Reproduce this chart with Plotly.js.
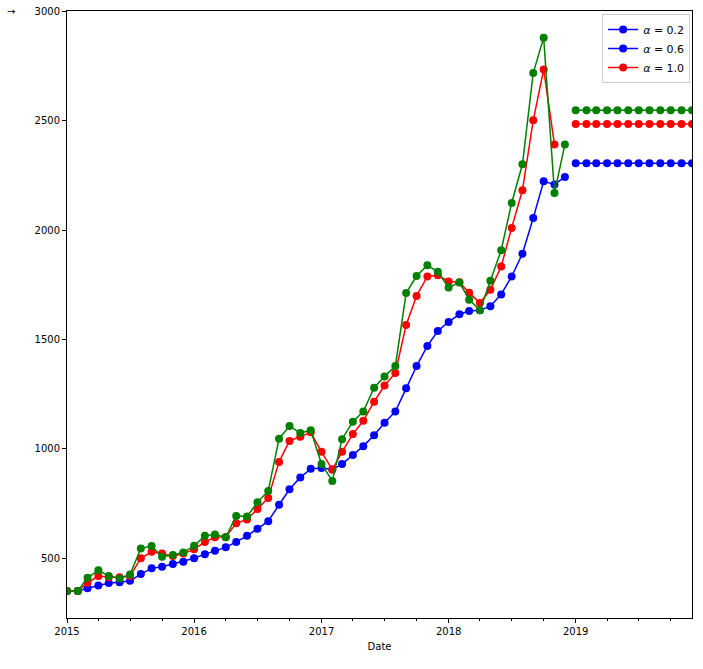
<!DOCTYPE html>
<html>
<head>
<meta charset="utf-8">
<script src="https://cdn.plot.ly/plotly-3.0.1.min.js"></script>
<style>
  html, body { margin: 0; padding: 0; background: #ffffff; }
  #chart { width: 703px; height: 669px; }
</style>
</head>
<body>
<div id="chart"></div>
<script>
// Monthly dates: fitted period 2015-01 .. 2018-12, forecast 2019-01 .. 2019-12
const fitDates = [];
for (let y = 2015; y <= 2018; y++) {
  for (let m = 1; m <= 12; m++) fitDates.push(y + '-' + String(m).padStart(2, '0') + '-01');
}
const fcDates = [];
for (let m = 1; m <= 12; m++) fcDates.push('2019-' + String(m).padStart(2, '0') + '-01');

// Fitted values
const fitA02 = [349, 349, 362, 375, 386, 390, 396, 427, 453, 460, 473, 483,
                499, 518, 533, 549, 574, 602, 634, 669, 744, 815, 869, 908,
                912, 905, 930, 971, 1012, 1062, 1119, 1170, 1277, 1378, 1470, 1539,
                1580, 1615, 1630, 1633, 1652, 1706, 1788, 1892, 2055, 2223, 2209, 2243];
const fitA06 = [349, 349, 410, 444, 418, 407, 425, 544, 555, 506, 514, 526,
                556, 602, 608, 595, 693, 690, 755, 807, 1046, 1104, 1072, 1085,
                930, 853, 1044, 1124, 1170, 1279, 1331, 1378, 1712, 1790, 1839, 1809,
                1737, 1760, 1682, 1633, 1768, 1908, 2124, 2301, 2719, 2880, 2170, 2392];
const fitA10 = [349, 349, 387, 418, 412, 412, 418, 499, 529, 521, 509, 521,
                540, 574, 595, 597, 659, 677, 724, 775, 940, 1036, 1055, 1075,
                986, 905, 986, 1067, 1128, 1215, 1289, 1347, 1566, 1699, 1788, 1793,
                1765, 1762, 1713, 1667, 1727, 1833, 2010, 2182, 2502, 2734, 2392];

// Forecast levels (flat)
const fcA02 = [2306, 2306, 2306, 2306, 2306, 2306, 2306, 2306, 2306, 2306, 2306, 2306];
const fcA06 = [2548, 2548, 2548, 2548, 2548, 2548, 2548, 2548, 2548, 2548, 2548, 2548];
const fcA10 = [2485, 2485, 2485, 2485, 2485, 2485, 2485, 2485, 2485, 2485, 2485, 2485];

const legendNames = ['<i>α</i> = 0.2', '<i>α</i> = 0.6', '<i>α</i> = 1.0'];
const legendColors = ['#0000ff', '#0000ff', '#ff0000'];

const BLUE = '#0000ff', GREEN = '#008000', RED = '#ff0000';
function series(x, y, color) {
  return {
    type: 'scatter', mode: 'lines+markers', x: x, y: y,
    line: { color: color, width: 1.5 },
    marker: { color: color, size: 8 },
    showlegend: false, hoverinfo: 'x+y'
  };
}

const traces = [
  series(fitDates, fitA02, BLUE),
  series(fitDates.slice(0, fitA10.length), fitA10, RED),
  series(fitDates, fitA06, GREEN),
  series(fcDates, fcA02, BLUE),
  series(fcDates, fcA10, RED),
  series(fcDates, fcA06, GREEN)
];
legendNames.forEach((n, i) => {
  traces.push({
    type: 'scatter', mode: 'lines+markers', x: [null], y: [null], name: n,
    line: { color: legendColors[i], width: 1.5 },
    marker: { color: legendColors[i], size: 8 },
    showlegend: true
  });
});

const layout = {
  width: 703, height: 669,
  margin: { l: 67, r: 11, t: 11, b: 51 },
  paper_bgcolor: '#ffffff', plot_bgcolor: '#ffffff',
  font: { family: 'DejaVu Sans, sans-serif', size: 10, color: '#000000' },
  xaxis: {
    type: 'date',
    range: ['2015-01-01', '2019-12-01'],
    dtick: 'M12', tick0: '2015-01-01', tickformat: '%Y',
    ticks: 'outside', ticklen: 4, tickwidth: 1, tickcolor: '#000',
    minor: { dtick: 'M3', tick0: '2015-01-01', ticks: 'outside', ticklen: 2, tickcolor: '#000', showgrid: false },
    showgrid: false, zeroline: false,
    showline: true, linecolor: '#000', linewidth: 1, mirror: true,
    tickfont: { size: 10 },
    title: { text: 'Date', font: { size: 10 }, standoff: 6 }
  },
  yaxis: {
    range: [226, 3002],
    tickvals: [500, 1000, 1500, 2000, 2500, 3000],
    ticks: 'outside', ticklen: 4, tickwidth: 1, tickcolor: '#000',
    showgrid: false, zeroline: false,
    showline: true, linecolor: '#000', linewidth: 1, mirror: true,
    tickfont: { size: 10 }
  },
  legend: {
    x: 0.997, xanchor: 'right', y: 0.995, yanchor: 'top',
    bgcolor: 'rgba(255,255,255,0.8)', bordercolor: '#cccccc', borderwidth: 1,
    font: { size: 11 }, itemwidth: 30, tracegroupgap: 0
  },
  annotations: [{
    xref: 'paper', yref: 'paper', x: -0.1, y: 1.0, xanchor: 'left', yanchor: 'middle',
    text: '→', showarrow: false, font: { size: 10, color: '#000' }
  }]
};

Plotly.newPlot('chart', traces, layout, { displayModeBar: false, staticPlot: true });
</script>
</body>
</html>
